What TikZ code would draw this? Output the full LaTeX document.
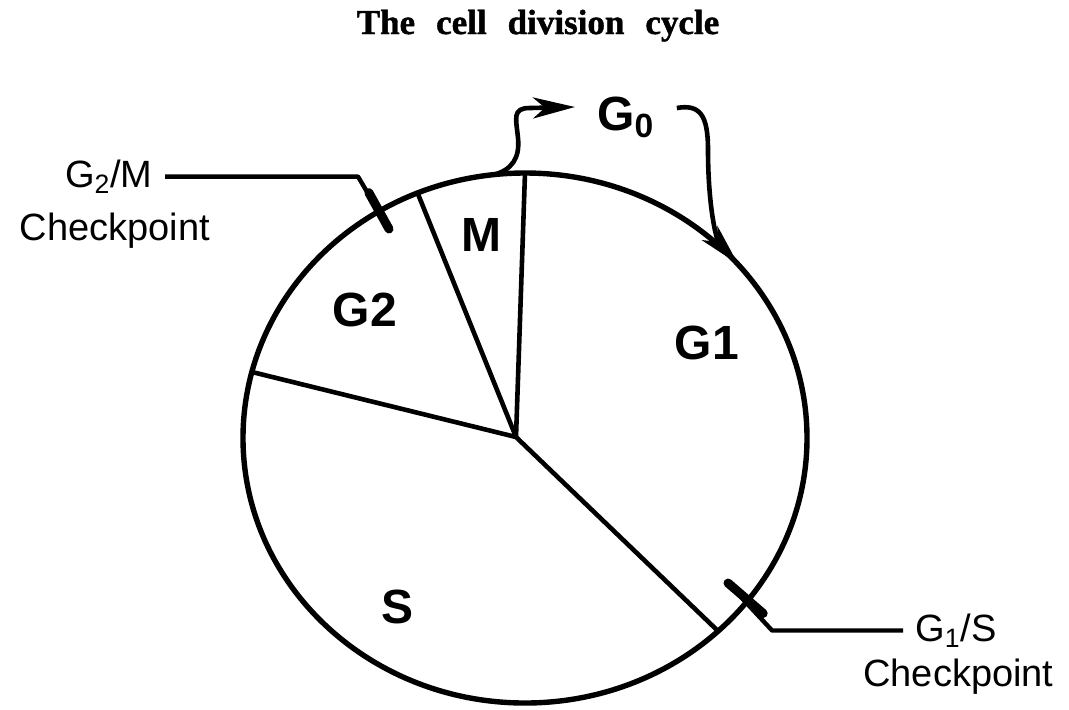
\documentclass[tikz,border=0pt]{standalone}
\usepackage{fontspec}
\setmainfont{Liberation Serif}
\setsansfont{Liberation Sans}
\newfontfamily\titlefont{Liberation Serif}[BoldFeatures={FakeBold=1.2}]
\usetikzlibrary{arrows.meta, positioning, calc}

\begin{document}
\begin{tikzpicture}[
    x=0.5pt, y=-0.5pt,
    phase/.style={font=\sffamily\bfseries\fontsize{24}{28}\selectfont, inner sep=0pt},
    cklabel/.style={font=\sffamily\fontsize{19}{23}\selectfont, inner xsep=6pt, inner ysep=2pt},
    ring/.style={line width=2.7pt},
    spoke/.style={line width=2.3pt},
    lead/.style={line width=2.2pt, line join=round},
    tick/.style={line width=4.5pt, line cap=round},
    arrow/.style={-{Stealth[length=21pt, width=10.5pt, inset=6pt]}, line width=2.3pt}
]
\useasboundingbox (0,0) rectangle (1069,709);

\node[font=\titlefont\bfseries\fontsize{17.5}{20}\selectfont, anchor=base] (title) at (538,34)
    {The\hspace{0.6em}cell\hspace{0.6em}division\hspace{0.6em}cycle};

\coordinate (cell) at (525,438);
\coordinate (ctr)  at (516,437);
\draw[ring] (cell) ellipse [x radius=141pt, y radius=132.5pt];

\coordinate (mg1) at (525,173);
\coordinate (g2m) at (418,194);
\coordinate (sg2) at (252,372);
\coordinate (g1s) at (718,631);
\foreach \p in {mg1, g2m, sg2, g1s}
    \draw[spoke] (ctr) -- (\p);

\node[phase] (mphase) at (481,235) {M};
\node[phase] (gtwo)   at (365,310) {G2};
\node[phase] (gone)   at (707,343) {G1};
\node[phase] (sphase) at (398,607) {S};

\node[phase, inner xsep=11pt, anchor=base west] (gzero) at (575,130) {G\textsubscript{0}};

\coordinate (mexit) at (493,175);
\coordinate (dock)  at (738,264);
\draw[arrow] (mexit) .. controls (512,170) and (520,158) .. (518,138)
    .. controls (516,118) and (512,108) .. (530,108) -- (gzero.west |- 0,107);
\draw[arrow] (gzero.east |- 0,108) .. controls (700,104) and (708,115) .. (708,150)
    .. controls (708,205) and (716,240) .. (dock);

\node[cklabel, anchor=base east] (gtwomlab) at (165,187) {G\textsubscript{2}/M};
\node[cklabel, anchor=base]      (gtwomck)  at (115,240) {Checkpoint};
\coordinate (kinka) at (358,173);
\coordinate (ticka) at (389,229);
\draw[lead] (gtwomlab.east) -- (gtwomlab.east -| kinka) -- (ticka);
\draw[tick] ($(kinka)!0.35!(ticka)$) -- (ticka);

\node[cklabel, anchor=base west] (gonelab) at (903,641) {G\textsubscript{1}/S};
\node[cklabel, anchor=base west] (goneck)  at (851,686) {Checkpoint};
\coordinate (kinkb) at (772,621);
\coordinate (tickb) at (728,583);
\draw[lead] (gonelab.west) -- (gonelab.west -| kinkb) -- (tickb);
\draw[tick] (tickb) -- ($(tickb)!0.8!(kinkb)$);

\end{tikzpicture}
\end{document}
